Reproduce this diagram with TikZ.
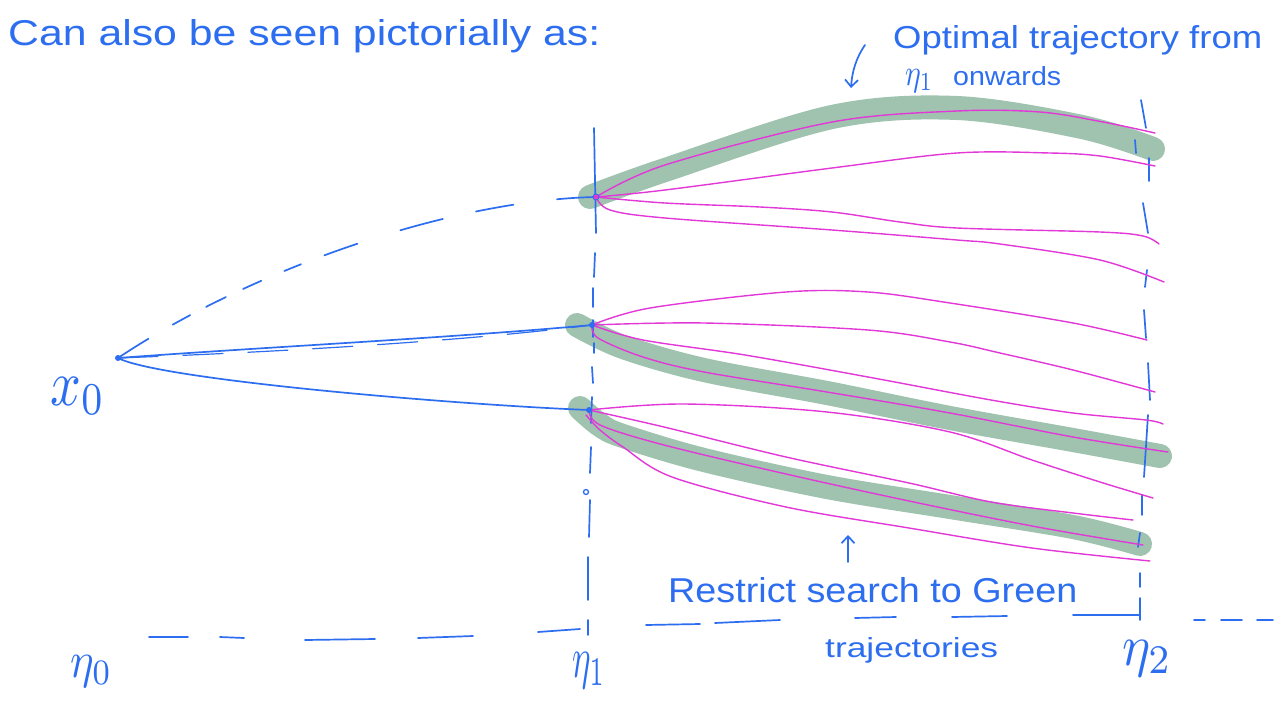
\documentclass[tikz,border=0pt]{standalone}
\usepackage{fontspec}
\setmainfont{Liberation Sans}
\usepackage{graphicx}
\usetikzlibrary{arrows.meta}
\definecolor{inkblue}{RGB}{45,110,240}
\definecolor{inkmag}{RGB}{226,56,216}
\definecolor{inkgreen}{RGB}{160,195,175}
\tikzset{
  blu/.style={draw=inkblue, line width=1.7pt, line cap=round, line join=round},
  mag/.style={draw=inkmag, line width=1.4pt, line cap=round, line join=round},
  grn/.style={draw=inkgreen, line width=24pt, line cap=round, line join=round},
  lbl/.style={inner sep=0pt, anchor=base west, text=inkblue},
  barb/.style={-{Straight Barb[length=7pt,width=13pt]}},
  sm/.style={smooth, tension=0.55},
}
\begin{document}
\begin{tikzpicture}[x=1pt,y=-1pt]
\useasboundingbox (0,0) rectangle (1286,726);
\fill[white] (0,0) rectangle (1286,726);

% states
\coordinate (x0) at (118,358);
\coordinate (A) at (596,197);
\coordinate (B) at (592,325);
\coordinate (C) at (589,410);

% green (restricted) trajectories
\draw[grn] plot[sm] coordinates {(590,197) (665,170) (832,117) (957,108) (1082,127) (1153,149)};
\draw[grn] plot[sm] coordinates {(577,325) (623,347) (704,370) (827,393) (950,418) (1073,440) (1160,456)};
\draw[grn] plot[sm] coordinates {(580,408) (600,425) (623,436) (704,460) (827,487) (950,507) (1073,527) (1140,544)};

% time axis (dashed)
\foreach \xa/\ya/\xb/\yb in {149/637/188/637, 220/637/244/638, 305/640/375/639, 418/638/473/636, 538/632/580/629,
  646/625/700/624, 715/623/780/620, 855/618/896/617, 952/617/1007/616, 1073/615/1140/615,
  1194/620/1205/620, 1221/620/1242/620, 1257/620/1273/620}
  \draw[blu] (\xa,\ya) -- (\xb,\yb);

% n1 vertical dashed line
\foreach \xa/\ya/\xb/\yb in {594/128/596/233, 595/253/594/277, 593/288/593/307, 593/320/593/337, 594/343/594/353,
  592/367/593/383, 592/397/591/423, 591/447/590/473, 590/500/589/537, 588/557/588/600, 588/620/588/635}
  \draw[blu] (\xa,\ya) -- (\xb,\yb);
\draw[inkblue, line width=1.3pt] (586,492) circle[radius=2.5pt];

% n2 vertical dashed line
\foreach \xa/\ya/\xb/\yb in {1141/100/1146/128, 1135/140/1136/153, 1149/158/1149/181, 1143/203/1148/233,
  1147/270/1145/287, 1144/310/1146/338, 1148/363/1150/400, 1148/415/1144/477, 1142/495/1142/515,
  1140/533/1138/547, 1140/573/1140/587, 1140/598/1140/620}
  \draw[blu] (\xa,\ya) -- (\xb,\yb);

% edges from x0
\draw[blu, dash pattern=on 36pt off 28pt on 20pt off 18pt on 22pt off 19pt on 20pt off 25pt on 18pt off 25pt on 35pt off 45pt on 44pt off 34pt on 38pt off 44pt on 45pt]
  (x0) .. controls (250,270) and (450,200) .. (A);
\draw[blu, dash pattern=on 40pt off 25pt, line width=1.2pt] (x0) .. controls (250,353) and (450,343) .. (B);
\draw[blu] (x0) .. controls (250,348) and (450,338) .. (B);
\draw[blu] (x0) .. controls (160,380) and (460,405) .. (C);

% magenta trajectories from A
\draw[mag] plot[sm] coordinates {(A) (665,165) (832,122) (957,111) (1040,112) (1103,122) (1155,133)};
\draw[mag] plot[sm] coordinates {(A) (665,190) (832,168) (957,153) (1050,153) (1100,156) (1155,166)};
\draw[mag] plot[sm] coordinates {(A) (665,203) (760,207) (832,212) (900,222) (957,228) (1100,232) (1143,236) (1159,244)};
\draw[mag] plot[sm] coordinates {(A) (610,210) (665,218) (832,230) (957,240) (1000,244) (1100,260) (1164,282)};

% magenta trajectories from B
\draw[mag] plot[sm] coordinates {(B) (650,308) (786,292) (868,292) (950,303) (1073,323) (1147,340)};
\draw[mag] plot[sm] coordinates {(B) (704,323) (868,330) (950,342) (1000,353) (1073,370) (1155,392)};
\draw[mag] plot[sm] coordinates {(B) (643,340) (745,355) (868,377) (991,400) (1073,413) (1146,420) (1163,424)};
\draw[mag] plot[sm] coordinates {(B) (598,338) (643,357) (704,372) (827,392) (950,413) (1073,437) (1168,452)};

% magenta trajectories from C
\draw[mag] plot[sm] coordinates {(C) (684,404) (827,412) (950,432) (1032,460) (1100,482) (1153,498)};
\draw[mag] plot[sm] coordinates {(C) (664,427) (786,457) (909,483) (991,502) (1073,513) (1133,520)};
\draw[mag] plot[sm] coordinates {(C) (600,425) (664,445) (786,474) (909,501) (1032,526) (1143,545)};
\draw[mag] plot[sm] coordinates {(586,415) (600,430) (623,447) (672,477) (786,507) (909,528) (1032,548) (1150,561)};

% state dots
\fill[inkblue] (x0) circle[radius=3pt];
\fill[inkblue] (A) circle[radius=3.5pt];
\fill[inkmag] (A) circle[radius=2.5pt];
\fill[inkblue] (B) circle[radius=3pt];
\fill[inkblue] (C) circle[radius=3pt];

% annotation arrows
\coordinate (a1) at (865,45);
\coordinate (a2) at (851,88);
\draw[blu, barb] (a1) .. controls (856,58) and (852,72) .. (a2);
\coordinate (u1) at (848,562);
\coordinate (u2) at (848,535);
\draw[blu, barb] (u1) -- (u2);

% texts
\node[lbl] (title) at (8,45) {\resizebox{592pt}{26pt}{Can also be seen pictorially as:}};
\node[lbl] (opt1) at (893,48) {\resizebox{369pt}{23pt}{Optimal trajectory from}};
\node[lbl] (opt2) at (905,85) {\resizebox{28pt}{16pt}{$\eta_1$}\hspace{20pt}\resizebox{108pt}{19pt}{onwards}};
\node[lbl] (res1) at (668,602) {\resizebox{409pt}{25pt}{Restrict search to Green}};
\node[lbl] (res2) at (825,657) {\resizebox{173pt}{20pt}{trajectories}};
\node[lbl] (lx0) at (50,405) {\resizebox{55pt}{28pt}{$x_0$}};
\node[lbl] (ln0) at (70,677) {\resizebox{42pt}{22pt}{$\eta_0$}};
\node[lbl] (ln1) at (572,677) {\resizebox{33pt}{25pt}{$\eta_1$}};
\node[lbl] (ln2) at (1122,665) {\resizebox{50pt}{25pt}{$\eta_2$}};
\end{tikzpicture}
\end{document}
